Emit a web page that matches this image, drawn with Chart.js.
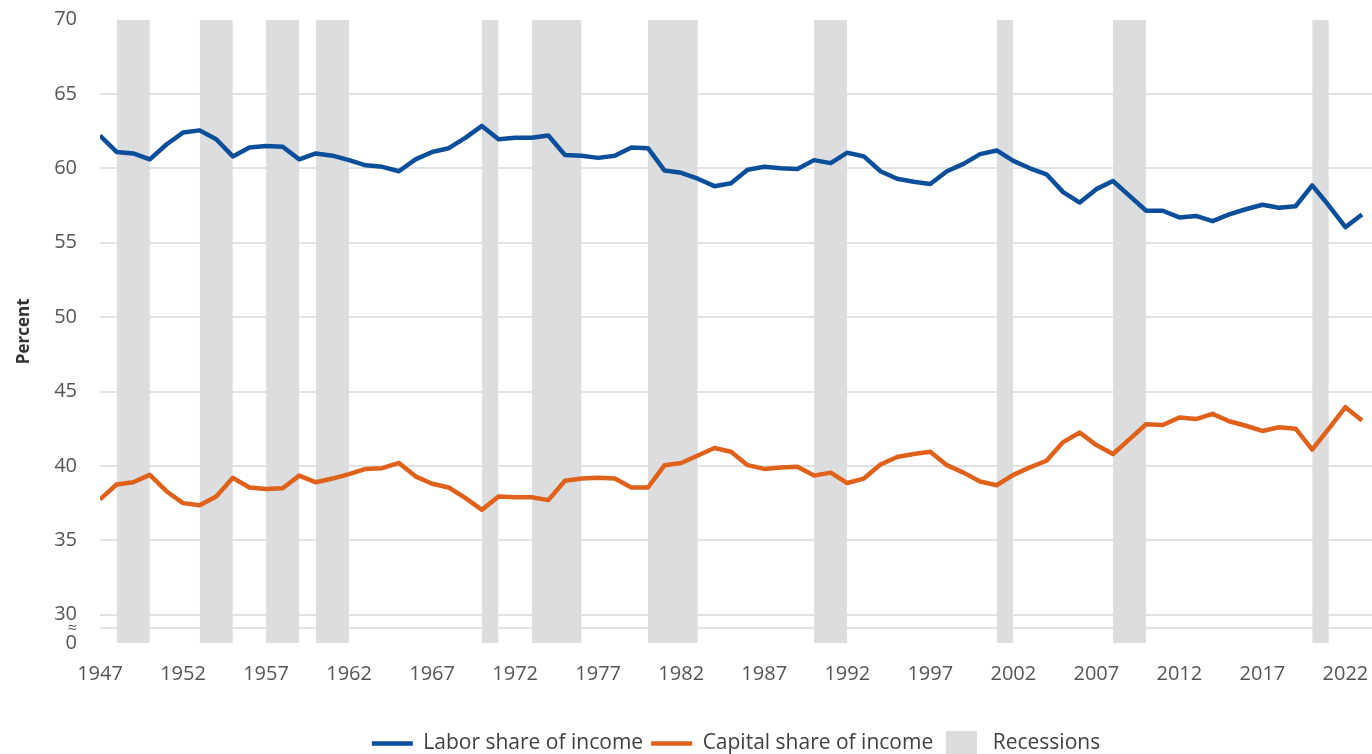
<!DOCTYPE html>
<html>
<head>
<meta charset="utf-8">
<title>Labor and capital share of income</title>
<script src="https://cdn.jsdelivr.net/npm/chart.js@4/dist/chart.umd.min.js"></script>
<style>
  html, body { margin: 0; padding: 0; background: #ffffff; }
</style>
</head>
<body>
<canvas id="chart" width="1372" height="754"></canvas>
<script>
// Values (percent of income)
const arrayYears = [
  1947, 1948, 1949, 1950, 1951, 1952, 1953, 1954, 1955, 1956,
  1957, 1958, 1959, 1960, 1961, 1962, 1963, 1964, 1965, 1966,
  1967, 1968, 1969, 1970, 1971, 1972, 1973, 1974, 1975, 1976,
  1977, 1978, 1979, 1980, 1981, 1982, 1983, 1984, 1985, 1986,
  1987, 1988, 1989, 1990, 1991, 1992, 1993, 1994, 1995, 1996,
  1997, 1998, 1999, 2000, 2001, 2002, 2003, 2004, 2005, 2006,
  2007, 2008, 2009, 2010, 2011, 2012, 2013, 2014, 2015, 2016,
  2017, 2018, 2019, 2020, 2021, 2022, 2023
]
const arrayLaborShare = [
  62.2, 61.1, 61.0, 60.6, 61.6, 62.4, 62.55, 61.95, 60.8, 61.4,
  61.5, 61.45, 60.6, 61.0, 60.85, 60.55, 60.2, 60.1, 59.8, 60.6,
  61.1, 61.35, 62.05, 62.85, 61.95, 62.05, 62.05, 62.2, 60.9, 60.85,
  60.7, 60.85, 61.4, 61.35, 59.85, 59.7, 59.3, 58.8, 59.0, 59.9,
  60.1, 60.0, 59.95, 60.55, 60.35, 61.05, 60.8, 59.8, 59.3, 59.1,
  58.95, 59.8, 60.3, 60.95, 61.2, 60.5, 60.0, 59.6, 58.4, 57.7,
  58.6, 59.15, 58.15, 57.15, 57.15, 56.7, 56.8, 56.45, 56.9, 57.25,
  57.55, 57.35, 57.45, 58.85, 57.5, 56.05, 56.9
]
const arrayCapitalShare = [
  37.75, 38.75, 38.9, 39.4, 38.3, 37.5, 37.35, 37.95, 39.2, 38.55,
  38.45, 38.5, 39.35, 38.9, 39.15, 39.45, 39.8, 39.85, 40.2, 39.3,
  38.8, 38.55, 37.85, 37.05, 37.95, 37.9, 37.9, 37.7, 39.0, 39.15,
  39.2, 39.15, 38.55, 38.55, 40.05, 40.2, 40.7, 41.2, 40.95, 40.05,
  39.8, 39.9, 39.95, 39.35, 39.55, 38.85, 39.15, 40.1, 40.6, 40.8,
  40.95, 40.05, 39.55, 38.95, 38.7, 39.4, 39.9, 40.35, 41.6, 42.25,
  41.4, 40.8, 41.8, 42.8, 42.75, 43.25, 43.15, 43.5, 43.0, 42.7,
  42.35, 42.6, 42.5, 41.1, 42.5, 43.95, 43.05
]
// Recessions (shaded periods)
const arrayRecessionStart = [1948, 1953, 1957, 1960, 1970, 1973, 1980, 1990, 2001, 2008, 2020]
const arrayRecessionEnd = [1950, 1955, 1959, 1962, 1971, 1976, 1983, 1992, 2002, 2010, 2021]
// Tick labels
const arrayTickYears = [1947, 1952, 1957, 1962, 1967, 1972, 1977, 1982, 1987, 1992, 1997, 2002, 2007, 2012, 2017, 2022]
const arrayTickPercent = [30, 35, 40, 45, 50, 55, 60, 65, 70]
const yAxisMin = 28.1 // shown as "0" below the axis break
const yBreak = 29.1   // "≈" break line

const laborColor = '#0b4f9b'
const capitalColor = '#df611a'
const recessionColor = '#dcdddf'
const gridColor = '#e1e2e3'
const yTop = arrayTickPercent[arrayTickPercent.length - 1]

Chart.defaults.font.family = "'Open Sans', sans-serif"

function BuildPoints(arrayValues){ //Pairs every value with its year
  return arrayValues.map((value, i) => ({x: arrayYears[i], y: value}))
}

function RecessionSwatch(){ //Grey square used in the legend
  let swatch = document.createElement('canvas')
  swatch.width = 31
  swatch.height = 26
  let ctx = swatch.getContext('2d')
  ctx.fillStyle = recessionColor
  ctx.fillRect(0, 0, swatch.width, swatch.height)
  return swatch
}

function NoScalePadding(scale){ //Keeps the plot area where the reference has it
  scale.paddingLeft = 0
  scale.paddingRight = 0
  scale.paddingTop = 0
  scale.paddingBottom = 0
}

function ShowChart(){
  let context = document.getElementById('chart').getContext('2d')
  let swatch = RecessionSwatch()
  let datasets = [{
    label: 'Labor share of income',
    data: BuildPoints(arrayLaborShare),
    borderColor: laborColor,
    backgroundColor: laborColor,
    borderWidth: 4.5,
    borderJoinStyle: 'round',
    pointRadius: 0,
    pointStyle: 'line',
    fill: false
  },
  {
    label: 'Capital share of income',
    data: BuildPoints(arrayCapitalShare),
    borderColor: capitalColor,
    backgroundColor: capitalColor,
    borderWidth: 4.5,
    borderJoinStyle: 'round',
    pointRadius: 0,
    pointStyle: 'line',
    fill: false
  }]
  //One filled band per recession, drawn under the lines
  arrayRecessionStart.forEach((start, i) => {
    datasets.push({
      label: 'Recessions',
      data: [{x: start, y: yTop}, {x: arrayRecessionEnd[i], y: yTop}],
      borderWidth: 0,
      borderColor: 'rgba(0,0,0,0)',
      backgroundColor: recessionColor,
      pointRadius: 0,
      pointStyle: swatch,
      fill: 'start'
    })
  })

  const config = {
    type: 'line',
    data: { datasets: datasets },
    options: {
      responsive: false,
      animation: false,
      events: [],
      layout: { padding: { top: 19.5, left: 0, right: 0, bottom: -10 } },
      plugins: {
        tooltip: { enabled: false },
        legend: {
          position: 'bottom',
          fullSize: false,
          labels: {
            usePointStyle: true,
            pointStyleWidth: 41,
            padding: 8,
            color: '#404040',
            font: { size: 21 },
            filter: (item) => item.datasetIndex <= 2
          }
        }
      },
      scales: {
        x: {
          type: 'linear',
          min: 1947,
          max: 2023.6,
          afterBuildTicks: (scale) => { scale.ticks = arrayTickYears.map(v => ({value: v})) },
          afterFit: (scale) => { scale.height = 82; NoScalePadding(scale) },
          grid: { display: false, drawTicks: false },
          border: { display: false },
          ticks: {
            padding: 19,
            color: '#555555',
            font: { size: 20 },
            maxRotation: 0,
            autoSkip: false,
            callback: (v) => String(v)
          }
        },
        y: {
          min: yAxisMin,
          max: yTop,
          afterBuildTicks: (scale) => {
            scale.ticks = [yAxisMin, yBreak].concat(arrayTickPercent).map(v => ({value: v}))
          },
          afterFit: (scale) => { scale.width = 100; NoScalePadding(scale) },
          grid: {
            drawTicks: false,
            lineWidth: 2,
            color: (ctx) => (ctx.tick && (ctx.tick.value === yAxisMin || ctx.tick.value === yTop)) ? 'rgba(0,0,0,0)' : gridColor
          },
          border: { display: false },
          ticks: {
            padding: 23,
            color: '#555555',
            autoSkip: false,
            font: (ctx) => ({ size: (ctx.tick && ctx.tick.value === yBreak) ? 16 : 20 }),
            callback: (v) => v === yAxisMin ? '0' : (v === yBreak ? '≈' : String(v))
          },
          title: {
            display: true,
            text: 'Percent',
            color: '#333333',
            font: { size: 17, weight: 'bold' },
            padding: { top: 14, bottom: 0 }
          }
        }
      }
    }
  }
  new Chart(context, config)
}
ShowChart()
</script>
</body>
</html>
